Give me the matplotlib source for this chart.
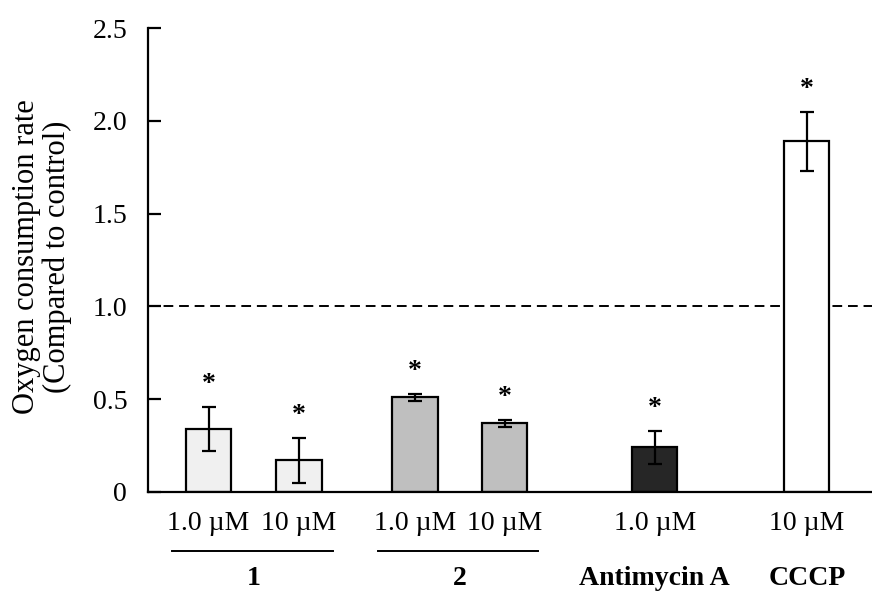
import matplotlib
matplotlib.use("Agg")
import matplotlib.pyplot as plt

# valeurs
conditions = ["1.0 µM", "10 µM", "1.0 µM", "10 µM", "1.0 µM", "10 µM"]
groups = ["1", "2", "Antimycin A", "CCCP"]
values = [0.34, 0.17, 0.51, 0.37, 0.24, 1.89]
errors = [0.12, 0.12, 0.02, 0.02, 0.09, 0.16]
bar_colors = ["#f0f0f0", "#f0f0f0", "#bfbfbf", "#bfbfbf", "#262626", "#ffffff"]
positions = [0.0, 1.0, 2.28, 3.27, 4.93, 6.61]
yticks = [0, 0.5, 1.0, 1.5, 2.0, 2.5]
ytick_labels = ["0", "0.5", "1.0", "1.5", "2.0", "2.5"]

plt.rcParams["font.family"] = ["Liberation Serif", "DejaVu Serif"]
fs = 20

fig = plt.figure(figsize=(8.72, 5.92), dpi=100)
ax = fig.add_axes([0.1697, 0.169, 0.8303, 0.7837])

ax.bar(positions, values, width=0.5, color=bar_colors, edgecolor="black",
       linewidth=1.6, zorder=2)
ax.errorbar(positions, values, yerr=errors, fmt="none", ecolor="black",
            elinewidth=1.6, capsize=5, capthick=1.6, zorder=3)
ax.axhline(1.0, color="black", linestyle=(0, (5, 3)), linewidth=1.4, zorder=1)

# astérisques de significativité
for x, v, e in zip(positions, values, errors):
    ax.text(x, v + e + 0.12, "*", ha="center", va="center", fontsize=fs,
            fontweight="bold")

ax.set_xlim(-0.67, 7.33)
ax.set_ylim(0, 2.5)
ax.set_yticks(yticks)
ax.set_yticklabels(ytick_labels, fontsize=fs)
ax.tick_params(axis="y", direction="in", length=9.5, width=1.6, pad=15)
ax.set_xticks([])
for s in ["top", "right"]:
    ax.spines[s].set_visible(False)
for s in ["left", "bottom"]:
    ax.spines[s].set_linewidth(1.6)

# étiquettes de concentration
for x, lab in zip(positions, conditions):
    ax.text(x, -0.067, lab, ha="center", va="center", fontsize=fs,
            transform=ax.get_xaxis_transform(), clip_on=False)

# traits sous les groupes 1 et 2
for x0, x1 in [(positions[0], positions[1]), (positions[2], positions[3])]:
    ax.plot([x0 - 0.41, x1 + 0.37], [-0.127, -0.127], color="black", lw=1.4,
            transform=ax.get_xaxis_transform(), clip_on=False)

group_x = [(positions[0] + positions[1]) / 2, (positions[2] + positions[3]) / 2,
           positions[4], positions[5]]
for x, lab in zip(group_x, groups):
    ax.text(x, -0.186, lab, ha="center", va="center", fontsize=fs,
            fontweight="bold", transform=ax.get_xaxis_transform(), clip_on=False)

fig.text(0.048, 1 - 257 / 592, "Oxygen consumption rate\n(Compared to control)",
         rotation=90, ha="center", va="center", fontsize=22, linespacing=1.05)

fig.savefig("out.png", dpi=100)
